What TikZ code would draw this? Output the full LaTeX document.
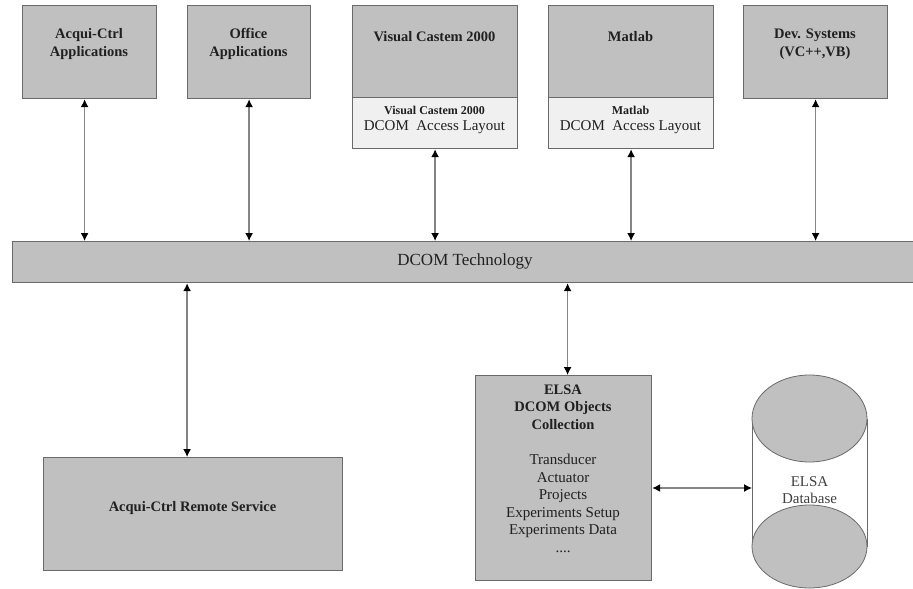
\documentclass[tikz,border=0pt]{standalone}
\usepackage{fontspec}
\setmainfont{Liberation Serif}
\usetikzlibrary{arrows.meta}
\definecolor{boxgray}{HTML}{C0C0C0}
\definecolor{edgegray}{HTML}{6A6A6A}
\definecolor{lightfill}{HTML}{F0F0F0}
\definecolor{linegray}{HTML}{858585}
\definecolor{inkgray}{HTML}{202020}

\begin{document}
\begin{tikzpicture}[x=1pt,y=-1pt,
  box/.style={draw=edgegray, line width=1.2pt, fill=boxgray, inner sep=0pt, anchor=north west},
  lightbox/.style={box, fill=lightfill},
  title/.style={font=\bfseries\fontsize{14.5}{17.5}\selectfont, align=center, text=inkgray, inner sep=0pt},
  subtitle/.style={font=\bfseries\fontsize{12}{14}\selectfont, align=center, text=inkgray, inner sep=0pt},
  plain/.style={font=\fontsize{15}{17.5}\selectfont, align=center, text=inkgray, inner sep=0pt},
  link/.style={draw=linegray, line width=1.3pt, {Latex[length=8pt,width=8pt,color=black]}-{Latex[length=8pt,width=8pt,color=black]}},
  drum/.style={draw=edgegray, line width=0.8pt, fill=boxgray}
]
\useasboundingbox (0,0) rectangle (913,589);

% application layer
\node[box, minimum width=134pt, minimum height=93pt] (acq) at (22,5) {};
\node[box, minimum width=123pt, minimum height=93pt] (office) at (187,5) {};
\node[box, minimum width=165pt, minimum height=92pt] (vc) at (352,5) {};
\node[lightbox, minimum width=165pt, minimum height=51pt] (vcl) at (352,97) {};
\node[box, minimum width=165pt, minimum height=92pt] (mat) at (548,5) {};
\node[lightbox, minimum width=165pt, minimum height=51pt] (matl) at (548,97) {};
\node[box, minimum width=144pt, minimum height=93pt] (dev) at (743,5) {};

\node[title] (acqt) at (89,44) {Acqui-Ctrl\\Applications};
\node[title] (officet) at (248.5,44) {Office\\Applications};
\node[title] (vct) at (434.5,37) {Visual Castem 2000};
\node[subtitle] (vcs) at (434.5,110) {Visual Castem 2000};
\node[plain] (vca) at (434.5,127) {DCOM\ \ Access Layout};
\node[title] (matt) at (630.5,37) {Matlab};
\node[subtitle] (mats) at (630.5,110) {Matlab};
\node[plain] (mata) at (630.5,127) {DCOM\ \ Access Layout};
\node[title] (devt) at (815,44) {Dev. Systems\\(VC++,VB)};

% middleware bar, running off the right edge
\node[box, minimum width=915pt, minimum height=41pt] (bar) at (12,241) {};
\node[plain, font=\fontsize{17}{20}\selectfont] (bart) at (465,261) {DCOM Technology};

% service side
\node[box, minimum width=299pt, minimum height=113pt] (remote) at (43,457) {};
\node[title] (remotet) at (192.5,508) {Acqui-Ctrl Remote Service};

\node[box, minimum width=176pt, minimum height=205pt] (elsa) at (475,375) {};
\node[title] (elsat) at (563,407) {ELSA\\DCOM Objects\\Collection};
\node[plain] (elsai) at (563,503.5) {Transducer\\Actuator\\Projects\\Experiments Setup\\Experiments Data\\....};

% database drum
\fill[white] (752,418.5) rectangle (867,546.5);
\draw[edgegray, line width=0.8pt] (752,418.5) -- (752,546.5) (867,418.5) -- (867,546.5);
\draw[drum] (809.5,546.5) ellipse [x radius=57.5, y radius=41.5];
\draw[drum] (809.5,418.5) ellipse [x radius=57.5, y radius=43.5];
\coordinate (dbw) at (752,488);
\node[plain, font=\fontsize{15}{16.5}\selectfont, text=black!75] (dbt) at (809.5,490) {ELSA\\Database};

% connectors
\coordinate (acqs) at ([xshift=-5pt]acq.south);
\draw[link] (acqs) -- (acqs |- bar.north);
\draw[link] (office.south) -- (office.south |- bar.north);
\draw[link] (vcl.south) -- (vcl.south |- bar.north);
\draw[link] (matl.south) -- (matl.south |- bar.north);
\draw[link] (dev.south) -- (dev.south |- bar.north);

\coordinate (rems) at ([xshift=-6pt]remote.north);
\draw[link] (bar.south -| rems) -- (rems);
\coordinate (elsan) at ([xshift=4pt]elsa.north);
\draw[link] (bar.south -| elsan) -- (elsan);

\draw[link] (elsa.east |- dbw) -- (dbw);
\end{tikzpicture}
\end{document}
